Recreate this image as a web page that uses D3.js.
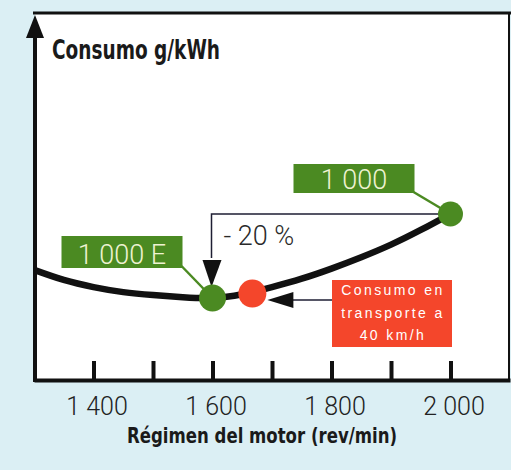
<!DOCTYPE html>
<html>
<head>
<meta charset="utf-8">
<script src="https://cdn.jsdelivr.net/npm/d3@7/dist/d3.min.js"></script>
<style>
    body { margin: 0; background: #dbeff4; }
    svg { display: block; }
    .x.axis .tick line { stroke: #111; stroke-width: 4; }
    .x.axis .domain { stroke: #111; stroke-width: 4; }
    .x.axis text { font-family: Roboto, "Liberation Sans", sans-serif; font-weight: 300; font-size: 25px; fill: #222; }
</style>
</head>
<body>
<div id="chart"></div>
<script>
// Engine speed (rev/min) and relative consumption
const RPM = [1300, 1350, 1400, 1450, 1500, 1550, 1600, 1650, 1700, 1750, 1800, 1850, 1900, 1950, 2000];
const CONSUMO = [86.7, 84.3, 82.6, 81.4, 80.7, 80.2, 80.0, 80.9, 82.6, 84.6, 87.0, 89.7, 92.7, 96.2, 100];
const TICKS = [1400, 1500, 1600, 1700, 1800, 1900, 2000];
const LABELED_TICKS = [1400, 1600, 1800, 2000];

// highlighted points
const POINT_HIGH = { rpm: 2000, value: 100, label: "1 000" };
const POINT_ECO = { rpm: 1600, value: 80, label: "1 000 E" };
const POINT_TRANSPORT = { rpm: 1667, value: 81.4 };
const REDUCTION_LABEL = "- 20 %";
const TRANSPORT_LINES = ["Consumo en", "transporte a", "40 km/h"];
const Y_TITLE = "Consumo g/kWh";
const X_TITLE = "Régimen del motor (rev/min)";

const width = 511;
const height = 470;
const GREEN = "#4b8a22";
const RED = "#f4462b";
const LABEL_TEXT = "#eff3d2";

const frame = {left: 35, top: 13, right: 509, bottom: 380};

const svg = d3.select("#chart")
    .append("svg")
    .attr("width", width)
    .attr("height", height);

const xScale = d3.scaleLinear()
    .domain([1300, 2100])
    .range([34, 510]);

const yScale = d3.scaleLinear()
    .domain([80, 100])
    .range([298, 214]);

// plot area
svg.append("rect")
    .attr("x", frame.left)
    .attr("y", frame.top)
    .attr("width", frame.right - frame.left)
    .attr("height", frame.bottom - frame.top)
    .attr("fill", "#fff");

svg.append("line")
    .attr("x1", 33).attr("x2", 511)
    .attr("y1", frame.top).attr("y2", frame.top)
    .attr("stroke", "#111").attr("stroke-width", 3);

svg.append("line")
    .attr("x1", frame.right).attr("x2", frame.right)
    .attr("y1", frame.top).attr("y2", frame.bottom)
    .attr("stroke", "#111").attr("stroke-width", 2);

// x axis
const fmt = d3.formatLocale({decimal: ",", thousands: " ", grouping: [3], currency: ["", ""]}).format(",");

svg.append("g")
    .attr("class", "x axis")
    .attr("transform", `translate(0, ${frame.bottom})`)
    .call(d3.axisBottom(xScale)
        .tickValues(TICKS)
        .tickSizeInner(-19)
        .tickSizeOuter(0)
        .tickPadding(17)
        .tickFormat(d => LABELED_TICKS.includes(d) ? fmt(d) : ""))
    .call(g => g.selectAll(".tick text").attr("dx", "3px"));

svg.append("line")
    .attr("x1", 33).attr("x2", 36)
    .attr("y1", frame.bottom).attr("y2", frame.bottom)
    .attr("stroke", "#111").attr("stroke-width", 4);

svg.append("text")
    .attr("x", 127)
    .attr("y", 443)
    .attr("textLength", 270)
    .attr("lengthAdjust", "spacingAndGlyphs")
    .style("font-family", "'Liberation Sans Narrow', 'DejaVu Sans Condensed', 'Liberation Sans', sans-serif")
    .style("font-weight", "bold")
    .style("font-size", "21px")
    .style("fill", "#1a1a1a")
    .text(X_TITLE);

// y axis with arrow
svg.append("line")
    .attr("x1", frame.left).attr("x2", frame.left)
    .attr("y1", frame.bottom + 2).attr("y2", 30)
    .attr("stroke", "#111").attr("stroke-width", 4);

svg.append("path")
    .attr("d", `M${frame.left - 9},38 L${frame.left},15 L${frame.left + 9},38 Z`)
    .attr("fill", "#111");

svg.append("text")
    .attr("x", 52)
    .attr("y", 59)
    .attr("textLength", 168)
    .attr("lengthAdjust", "spacingAndGlyphs")
    .style("font-family", "'Liberation Sans Narrow', 'DejaVu Sans Condensed', 'Liberation Sans', sans-serif")
    .style("font-weight", "bold")
    .style("font-size", "27px")
    .style("fill", "#1a1a1a")
    .text(Y_TITLE);

// consumption curve
const lineGenerator = d3.line()
    .x((d, i) => xScale(RPM[i]))
    .y(d => yScale(d))
    .curve(d3.curveNatural);

svg.append("path")
    .datum(CONSUMO)
    .attr("d", lineGenerator)
    .attr("fill", "none")
    .attr("stroke", "#111")
    .attr("stroke-width", 6.5);

// -20 % bracket
const hx = xScale(POINT_HIGH.rpm), hy = yScale(POINT_HIGH.value);
const ex = xScale(POINT_ECO.rpm), ey = yScale(POINT_ECO.value);
const tx = xScale(POINT_TRANSPORT.rpm), ty = yScale(POINT_TRANSPORT.value);

svg.append("path")
    .attr("d", `M${hx},${hy} H${ex - 1} V${ey - 40}`)
    .attr("fill", "none")
    .attr("stroke", "#1e1e33")
    .attr("stroke-width", 1.5);

svg.append("path")
    .attr("d", `M${ex - 10},${ey - 38} L${ex - 1},${ey - 11} L${ex + 9},${ey - 38} Z`)
    .attr("fill", "#111");

svg.append("text")
    .attr("x", ex + 11)
    .attr("y", hy + 31)
    .style("font-family", "Roboto, 'Liberation Sans', sans-serif")
    .style("font-weight", 300)
    .style("font-size", "27px")
    .style("fill", "#2a2a2a")
    .text(REDUCTION_LABEL);

// green labels with leaders
function greenLabel(px, py, box, leaderStart, label) {
    svg.append("line")
        .attr("x1", leaderStart[0]).attr("y1", leaderStart[1])
        .attr("x2", px).attr("y2", py)
        .attr("stroke", GREEN)
        .attr("stroke-width", 2.5);
    svg.append("rect")
        .attr("x", box.x).attr("y", box.y)
        .attr("width", box.w).attr("height", box.h)
        .attr("fill", GREEN);
    svg.append("text")
        .attr("x", box.x + box.w / 2)
        .attr("y", box.y + box.h - 4)
        .attr("text-anchor", "middle")
        .style("font-family", "Roboto, 'Liberation Sans', sans-serif")
        .style("font-weight", 300)
        .style("font-size", "27px")
        .style("fill", LABEL_TEXT)
        .text(label);
}

greenLabel(hx, hy, {x: hx - 157, y: hy - 50, w: 121, h: 29}, [hx - 37, hy - 22], POINT_HIGH.label);
greenLabel(ex, ey, {x: ex - 151, y: ey - 62, w: 121, h: 32}, [ex - 31, ey - 32], POINT_ECO.label);

// points
svg.append("circle").attr("cx", hx).attr("cy", hy).attr("r", 12.5).attr("fill", GREEN);
svg.append("circle").attr("cx", ex).attr("cy", ey).attr("r", 13.5).attr("fill", GREEN);
svg.append("circle").attr("cx", tx).attr("cy", ty + 1.5).attr("r", 14).attr("fill", RED);

// transport box and arrow
const box = {x: 332, y: 280, w: 120, h: 67};
svg.append("line")
    .attr("x1", box.x).attr("x2", tx + 38)
    .attr("y1", ty + 8).attr("y2", ty + 8)
    .attr("stroke", "#1e1e33")
    .attr("stroke-width", 1.5);
svg.append("path")
    .attr("d", `M${tx + 41},${ty} L${tx + 15},${ty + 8} L${tx + 41},${ty + 16} Z`)
    .attr("fill", "#111");

svg.append("rect")
    .attr("x", box.x).attr("y", box.y)
    .attr("width", box.w).attr("height", box.h)
    .attr("fill", RED);

svg.append("g")
    .selectAll("text")
    .data(TRANSPORT_LINES)
  .enter().append("text")
    .attr("x", box.x + box.w / 2 + 1)
    .attr("y", (d, i) => box.y + 15 + i * 22.5)
    .attr("text-anchor", "middle")
    .style("font-family", "'Liberation Sans', Arial, sans-serif")
    .style("font-size", "14px")
    .style("letter-spacing", "2.4px")
    .style("fill", "#fff")
    .text(d => d);
</script>
</body>
</html>
